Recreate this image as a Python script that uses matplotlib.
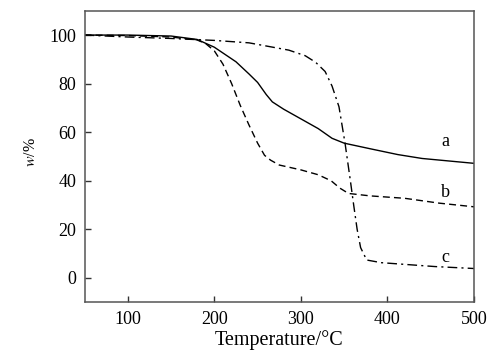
import numpy as np
import matplotlib.pyplot as plt

plt.rcParams['font.family'] = ['Liberation Serif', 'DejaVu Serif']
plt.rcParams['mathtext.fontset'] = 'stix'

# curve a (solid)
temp_a = [50, 100, 150, 180, 200, 225, 240, 250, 260, 267, 280, 300, 320, 336, 350, 380, 412, 440, 470, 500]
w_a = [100, 100, 99.6, 98.2, 95, 89, 84, 80.5, 75.5, 72.5, 69.5, 65.5, 61.5, 57.5, 55.5, 53.2, 50.8, 49.2, 48.2, 47.2]

# curve b (dashed)
temp_b = [50, 100, 150, 180, 190, 200, 210, 220, 230, 240, 250, 258, 265, 275, 300, 320, 335, 345, 355, 380, 420, 460, 500]
w_b = [100, 99.8, 99.2, 98, 96.5, 93.5, 88, 80, 71, 63, 55.5, 50.5, 48.5, 46.5, 44.5, 42.5, 40, 37, 34.8, 33.8, 32.8, 30.8, 29.3]

# curve c (dash-dot)
temp_c = [50, 100, 150, 200, 240, 286, 305, 317, 328, 336, 344, 351, 357, 361, 365, 369, 376, 393, 420, 455, 500]
w_c = [100, 99.2, 98.6, 97.8, 96.8, 93.8, 91.5, 88.8, 85, 79, 70.5, 55.5, 40.5, 30, 20, 12.5, 7.4, 6.3, 5.6, 4.7, 3.9]

curve_labels = ['a', 'b', 'c']
label_x = [467, 467, 467]
label_y = [56, 35, 8.5]

fig = plt.figure(figsize=(5.0, 3.59), dpi=100)
ax = fig.add_axes([0.169, 0.158, 0.779, 0.812])

ax.plot(temp_a, w_a, color='black', linestyle='-', linewidth=1.0)
ax.plot(temp_b, w_b, color='black', linestyle=(0, (5, 3)), linewidth=1.0)
ax.plot(temp_c, w_c, color='black', linestyle=(0, (7, 3, 1.5, 3)), linewidth=1.0)

for lab, lx, ly in zip(curve_labels, label_x, label_y):
    ax.text(lx, ly, lab, fontsize=13, ha='center', va='center')

ax.set_xlim(50, 500)
ax.set_ylim(-10, 110)
ax.set_xticks([100, 200, 300, 400, 500])
ax.set_yticks([0, 20, 40, 60, 80, 100])
ax.tick_params(direction='in', length=4, width=1, colors='#333333', labelcolor='black', labelsize=13, pad=6)
for s in ax.spines.values():
    s.set_color('#555555')
    s.set_linewidth(1.1)

ax.set_xlabel('Temperature/°C', fontsize=14.5, labelpad=2)
ax.set_ylabel(r'$w$/%', fontsize=11.5)
ax.yaxis.set_label_coords(-0.117, 0.515)

fig.savefig('out.png', dpi=100)
